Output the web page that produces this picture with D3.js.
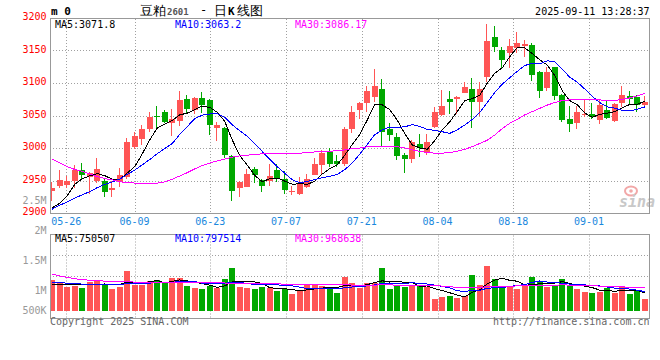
<!DOCTYPE html>
<html><head><meta charset="utf-8">
<script src="https://cdn.jsdelivr.net/npm/d3@7"></script>
<style>
html,body{margin:0;padding:0;background:#fff;}
svg{display:block;}
text{font-family:"DejaVu Sans Mono",monospace;}
</style></head><body>
<svg id="c" width="660" height="360"></svg>
<script>
// ---------- data ----------
const dates = ["05-22","05-23","05-26","05-27","05-28","05-29","05-30","06-03","06-04","06-05",
"06-06","06-09","06-10","06-11","06-12","06-13","06-16","06-17","06-18","06-19",
"06-20","06-23","06-24","06-25","06-26","06-27","06-30","07-01","07-02","07-03",
"07-04","07-07","07-08","07-09","07-10","07-11","07-14","07-15","07-16","07-17",
"07-18","07-21","07-22","07-23","07-24","07-25","07-28","07-29","07-30","07-31",
"08-01","08-04","08-05","08-06","08-07","08-08","08-11","08-12","08-13","08-14",
"08-15","08-18","08-19","08-20","08-21","08-22","08-25","08-26","08-27","08-28",
"08-29","09-01","09-02","09-03","09-04","09-05","09-08","09-09","09-10","09-11"];

const open = [2934,2942,2943,2949,2966,2956,2949,2949,2935,2948,
2956,3001,3014,3029,3050,3056,3039,3042,3075,3058,
3077,3074,3031,3031,2987,2939,2940,2968,2951,2949,
2966,2953,2932,2929,2940,2958,2974,2994,2980,2975,
3029,3058,3070,3078,3091,3029,3017,2989,2983,3006,
2994,3032,3051,3075,3076,3085,3091,3071,3110,3171,
3151,3146,3154,3157,3158,3117,3092,3124,3081,3045,
3039,3051,3053,3043,3058,3042,3070,3080,3079,3066];

const close = [2939,2951,2949,2966,2959,2961,2968,2933,2939,2958,
3010,3018,3030,3047,3049,3040,3045,3074,3060,3077,
3066,3035,3036,2990,2934,2947,2960,2958,2942,2957,
2952,2936,2934,2946,2953,2975,2992,2975,2975,3029,
3056,3069,3087,3095,3024,3020,2988,2983,3009,3000,
3010,3056,3065,3071,3079,3094,3071,3091,3164,3156,
3135,3157,3162,3160,3112,3087,3117,3080,3043,3037,
3056,3053,3047,3066,3046,3068,3081,3075,3066,3071];

const high = [2947,2966,2957,2974,2977,2963,2985,2953,2950,2969,
3016,3024,3035,3055,3065,3058,3060,3088,3082,3079,
3086,3076,3040,3033,2989,2949,2968,2971,2953,2975,
2975,2964,2941,2956,2960,2984,2997,3000,2989,3033,
3065,3071,3095,3121,3106,3038,3023,2993,3012,3022,
3022,3063,3089,3088,3080,3101,3108,3102,3191,3187,
3156,3168,3178,3166,3162,3118,3125,3125,3083,3065,
3065,3075,3069,3074,3074,3069,3095,3087,3082,3080];

const low = [2919,2938,2939,2939,2952,2929,2946,2925,2924,2940,
2953,2999,3004,3025,3030,3039,3019,3034,3053,3052,
3054,3020,3011,2985,2919,2924,2940,2946,2933,2942,
2948,2930,2927,2927,2938,2958,2958,2971,2971,2973,
3023,3045,3056,3071,3003,3011,2982,2962,2977,2986,
2989,3031,3049,3052,3052,3085,3031,3049,3102,3147,
3121,3123,3146,3140,3103,3077,3088,3074,3040,3025,
3030,3048,3045,3037,3045,3040,3063,3066,3056,3065];

const ma5 = [2908,2915,2927,2944,2952.8,2957.2,2960.6,2957.4,2952.0,2951.8,
2961.6,2971.6,2991.0,3012.6,3030.8,3036.8,3042.2,3051.0,3053.6,3059.2,
3064.4,3062.4,3054.8,3040.8,3012.2,2988.4,2973.4,2957.8,2948.2,2952.8,
2953.8,2949.0,2944.2,2945.0,2944.2,2948.8,2960.0,2968.2,2974.0,2989.2,
3005.4,3020.8,3043.2,3067.2,3066.2,3059.0,3042.8,3022.0,3004.8,3000.0,
2998.0,3011.6,3028.0,3040.4,3056.2,3073.0,3076.0,3081.2,3099.8,3115.2,
3123.4,3140.6,3154.8,3154.0,3145.2,3135.6,3127.6,3111.2,3087.8,3072.8,
3066.6,3053.8,3047.2,3051.8,3053.6,3056.0,3061.6,3067.2,3067.2,3071.8];

const ma10 = [2906,2912,2917,2923,2928,2933,2939,2944,2948,2952.3,
2959.4,2966.1,2974.2,2982.3,2991.3,2999.2,3006.9,3021.0,3033.1,3045.0,
3050.6,3052.3,3052.9,3047.2,3035.7,3026.4,3017.9,3006.3,2994.5,2982.5,
2971.1,2961.2,2951.0,2946.6,2948.5,2951.3,2954.5,2956.2,2959.5,2966.7,
2977.1,2990.4,3005.7,3020.6,3027.7,3032.2,3031.8,3032.6,3036.0,3033.1,
3028.5,3027.2,3025.0,3022.6,3028.1,3035.5,3043.8,3054.6,3070.1,3085.7,
3098.2,3108.3,3118.0,3126.9,3130.2,3129.5,3134.1,3133.0,3120.9,3109.0,
3101.1,3090.7,3079.2,3069.8,3063.2,3061.3,3057.7,3057.2,3059.5,3063.2];

const ma30 = [2983,2977,2971,2967,2964,2960,2956,2953,2951,2948,
2947,2946,2946,2946,2946,2948,2952,2957,2962,2968,
2973,2977,2980,2983,2986,2988,2989,2990,2991,2992,
2992,2992,2992,2992,2993,2994,2995,2995,2996,2997,
2999,3000,3002,3003,3003,3003,3002,3000,2997,2995,
2993,2992,2992,2993,2995,2998,3002,3007,3012,3020,
3030,3038,3044,3051,3056,3061,3066,3070,3073,3074,
3075,3075,3074,3074,3073,3073,3075,3077,3080,3084];

// volume, thousands of lots
const volume = [1280,1168,1001,1043,959,1209,1251,1113,905,1001,
1668,1072,1072,1238,1280,1143,1376,1376,1043,959,
905,1043,934,1334,1793,1001,959,905,1001,934,
834,905,696,821,1072,1072,1043,934,751,1418,
1168,934,1168,1168,1793,905,1072,976,1072,1043,
1001,488,584,626,542,613,1489,1072,1877,1322,
1043,1001,905,1043,1418,1238,1001,1072,1322,1043,
905,792,751,792,959,751,1001,696,834,488];

const vma5 = [1100,1095,1090,1088,1090,1076,1093,1115,1087,1096,
1188,1152,1144,1210,1266,1161,1222,1283,1244,1179,
1132,1065,977,1035,1202,1221,1204,1198,1132,960,
927,916,874,838,866,913,941,988,974,1044,
1063,1041,1088,1171,1246,1194,1221,1183,1164,1014,
1033,916,838,748,648,571,771,868,1119,1275,
1361,1263,1230,1063,1082,1121,1121,1154,1210,1135,
1069,1027,963,857,840,809,851,840,848,750.5];

const vma10 = [1180,1165,1150,1130,1110,1095,1085,1085,1090,1093,
1132,1122,1129,1149,1181,1174,1187,1213,1227,1223,
1146,1144,1130,1139,1191,1176,1135,1088,1083,1081,
1074,1060,1036,985,913,920,928,931,906,955,
988,991,1038,1073,1145,1128,1131,1135,1167,1130,
1113,1069,1010,956,831,802,843,853,934,961,
966,1017,1049,1091,1178,1241,1192,1192,1137,1109,
1095,1074,1059,1033,988,939,939,901,852,797.5];

const vma30 = [1530,1450,1390,1330,1300,1270,1250,1235,1220,1210,
1200,1195,1190,1185,1180,1175,1172,1170,1168,1165,
1162,1160,1157,1155,1150,1145,1140,1137,1135,1132,
1117,1109,1098,1091,1095,1090,1083,1077,1072,1086,
1069,1065,1068,1066,1083,1075,1065,1051,1052,1055,
1058,1040,1028,1005,963,950,968,973,1002,1015,
1022,1025,1032,1040,1051,1057,1056,1060,1079,1067,
1058,1053,1039,1027,999,994,991,982,974,968.6];

const priceTicks = [3200,3150,3100,3050,3000,2950,2900];
const dateTicks = ["05-26","06-09","06-23","07-07","07-21","08-04","08-18","09-01"];
const volTickLabels = ["2M","1.5M","1M","500K"];
const priceLegend = ["MA5:3071.8","MA10:3063.2","MA30:3086.17"];
const volLegend = ["MA5:750507","MA10:797514","MA30:968638"];

// ---------- layout ----------
const svg = d3.select("#c");
const PL = 50, PR = 649, PT = 18, PB = 213;
const VT = 234.5, VB = 318.5;
const RED = "#ff5555", GREEN = "#00a800";
const GRID = "#a0a0a0", FRAME = "#999";
const maCols = ["#000000", "#0000ff", "#ff00ff"];

const x = d3.scaleBand().domain(dates).range([48.55, 648.55]).padding(0);
const cx = i => x(dates[i]) + x.bandwidth() / 2;
const gridX = d3.scaleLinear().domain([0, dates.length - 1]).range([51.2, 51.2 + 7.575 * 79]);
const y = d3.scaleLinear().domain([2900, 3200]).range([PB, PT]);
const vy = d3.scaleLinear().domain([0, 1000]).range([310.7, 310.7 - 1000 / 41.7]);

const defs = svg.append("defs");
defs.append("clipPath").attr("id", "cp").append("rect").attr("x", PL).attr("y", PT).attr("width", PR - PL).attr("height", PB - PT);
defs.append("clipPath").attr("id", "cv").append("rect").attr("x", PL).attr("y", VT).attr("width", PR - PL).attr("height", VB - VT);

// horizontal grid (price)
svg.append("g").selectAll("line").data(priceTicks.slice(1, -1)).join("line")
  .attr("x1", PL).attr("x2", PR)
  .attr("y1", d => Math.round(y(d)) + 0.5).attr("y2", d => Math.round(y(d)) + 0.5)
  .attr("stroke", GRID).attr("stroke-dasharray", "1,2");

// vertical grid
const gx = d => Math.round(gridX(dates.indexOf(d))) + 0.5;
svg.append("g").selectAll("line").data(dateTicks).join("line")
  .attr("x1", gx).attr("x2", gx).attr("y1", PT + 1).attr("y2", PB)
  .attr("stroke", GRID).attr("stroke-dasharray", "1,2");
svg.append("g").selectAll("line").data(dateTicks).join("line")
  .attr("x1", gx).attr("x2", gx).attr("y1", VT + 1).attr("y2", VB)
  .attr("stroke", GRID).attr("stroke-dasharray", "1,2");

// volume horizontal grid
[255.5, 276.5].forEach(gy => svg.append("line").attr("x1", PL).attr("x2", PR).attr("y1", gy).attr("y2", gy)
  .attr("stroke", GRID).attr("stroke-dasharray", "1,2"));

// sina watermark
const wm = svg.append("g");
wm.append("ellipse").attr("cx", 631).attr("cy", 191).attr("rx", 6).attr("ry", 4.5).attr("fill", "none").attr("stroke", "#f2a8a8").attr("stroke-width", 2);
wm.append("circle").attr("cx", 631).attr("cy", 191).attr("r", 1.8).attr("fill", "#f2a8a8");
wm.append("text").attr("x", 619).attr("y", 207).attr("font-family", "DejaVu Sans").attr("font-size", 15)
  .attr("font-style", "italic").attr("font-weight", "bold").attr("fill", "#c8c8c8").text("sina");

// candles
const gc = svg.append("g").attr("clip-path", "url(#cp)");
const idx = d3.range(dates.length);
gc.selectAll("rect.w").data(idx).join("rect").attr("class", "w")
  .attr("x", i => Math.round(cx(i) - 3) + 2)
  .attr("y", i => Math.round(y(high[i])))
  .attr("width", 1)
  .attr("height", i => Math.max(1, Math.round(y(low[i])) - Math.round(y(high[i]))))
  .attr("fill", i => close[i] >= open[i] ? RED : GREEN);
gc.selectAll("rect.b").data(idx).join("rect").attr("class", "b")
  .attr("x", i => Math.round(cx(i) - 3) - 0.5 + 0.5)
  .attr("y", i => Math.round(y(Math.max(open[i], close[i]))))
  .attr("width", 6)
  .attr("height", i => Math.max(1, Math.round(y(Math.min(open[i], close[i]))) - Math.round(y(Math.max(open[i], close[i])))))
  .attr("fill", i => close[i] >= open[i] ? RED : GREEN);

// price MA lines
const lineP = d3.line().x((v, i) => cx(i)).y(v => y(v));
[ma5, ma10, ma30].forEach((arr, k) => {
  gc.append("path").attr("d", lineP(arr)).attr("fill", "none").attr("stroke", maCols[k])
    .attr("stroke-width", 1).attr("shape-rendering", "crispEdges");
});

// volume bars
const gv = svg.append("g").attr("clip-path", "url(#cv)");
gv.selectAll("rect").data(idx).join("rect")
  .attr("x", i => Math.round(cx(i) - 3))
  .attr("y", i => Math.round(vy(volume[i])))
  .attr("width", 6)
  .attr("height", i => Math.round(vy(0)) - Math.round(vy(volume[i])))
  .attr("fill", i => close[i] >= open[i] ? RED : GREEN);
const lineV = d3.line().x((v, i) => cx(i)).y(v => vy(v));
[vma5, vma10, vma30].forEach((arr, k) => {
  gv.append("path").attr("d", lineV(arr)).attr("fill", "none").attr("stroke", maCols[k])
    .attr("stroke-width", 1).attr("shape-rendering", "crispEdges");
});

// frames
svg.append("rect").attr("x", PL + 0.5).attr("y", PT + 0.5).attr("width", PR - PL).attr("height", PB - PT)
  .attr("fill", "none").attr("stroke", FRAME);
svg.append("rect").attr("x", PL + 0.5).attr("y", VT).attr("width", PR - PL).attr("height", VB - VT)
  .attr("fill", "none").attr("stroke", FRAME);

// price axis labels
svg.append("g").selectAll("text").data(priceTicks).join("text")
  .attr("x", 46.5).attr("y", d => y(d) + 2).attr("text-anchor", "end")
  .attr("font-size", 10).attr("fill", "#ff0000").text(d => d);
svg.append("text").attr("x", 46.5).attr("y", 204).attr("text-anchor", "end")
  .attr("font-size", 10).attr("fill", "#999").text("2.5M");

// date labels
svg.append("g").selectAll("text").data(dateTicks).join("text")
  .attr("x", d => gridX(dates.indexOf(d))).attr("y", 225).attr("text-anchor", "middle")
  .attr("font-size", 10).attr("fill", "#1a88dd").text(d => d);

// volume axis labels
const volLabelY = [234, 264.3, 294, 314.3];
svg.append("g").selectAll("text").data(volTickLabels).join("text")
  .attr("x", 46.5).attr("y", (d, i) => volLabelY[i]).attr("text-anchor", "end")
  .attr("font-size", 10).attr("fill", "#999").text(d => d);

// legends
const legX = [55, 175, 295];
svg.append("g").selectAll("text").data(priceLegend).join("text")
  .attr("x", (d, i) => legX[i]).attr("y", 28).attr("font-size", 10)
  .attr("fill", (d, i) => maCols[i]).text(d => d);
svg.append("g").selectAll("text").data(volLegend).join("text")
  .attr("x", (d, i) => legX[i]).attr("y", 241.5).attr("font-size", 10)
  .attr("fill", (d, i) => maCols[i]).text(d => d);

// header
svg.append("text").attr("x", 51).attr("y", 15).attr("font-size", 11).attr("font-weight", "bold").attr("fill", "#000").text("m 0");
const cjk = '"Noto Sans CJK SC", sans-serif';
svg.append("text").attr("x", 140).attr("y", 15).attr("font-family", cjk).attr("font-size", 13).attr("fill", "#000").text("豆粕");
svg.append("text").attr("x", 167).attr("y", 15).attr("font-size", 9).attr("font-weight", "bold").attr("fill", "#555").text("2601");
svg.append("text").attr("x", 200).attr("y", 14).attr("font-family", cjk).attr("font-size", 12).attr("fill", "#000").text("-");
svg.append("text").attr("x", 214).attr("y", 15).attr("font-family", cjk).attr("font-size", 13).attr("fill", "#000").text("日");
svg.append("text").attr("x", 228).attr("y", 15).attr("font-family", "DejaVu Sans").attr("font-size", 11).attr("font-weight", "bold").attr("fill", "#000").text("K");
svg.append("text").attr("x", 237).attr("y", 15).attr("font-family", cjk).attr("font-size", 12.5).attr("fill", "#000").text("线图");
svg.append("text").attr("x", 649.5).attr("y", 15).attr("text-anchor", "end").attr("font-size", 10).attr("fill", "#000").text("2025-09-11 13:28:37");

// footer
svg.append("text").attr("x", 50).attr("y", 325).attr("font-size", 10).attr("fill", "#666").text("Copyright 2025 SINA.COM");
svg.append("text").attr("x", 649.5).attr("y", 325).attr("text-anchor", "end").attr("font-size", 10).attr("fill", "#666").text("http://finance.sina.com.cn");
</script>
</body></html>
